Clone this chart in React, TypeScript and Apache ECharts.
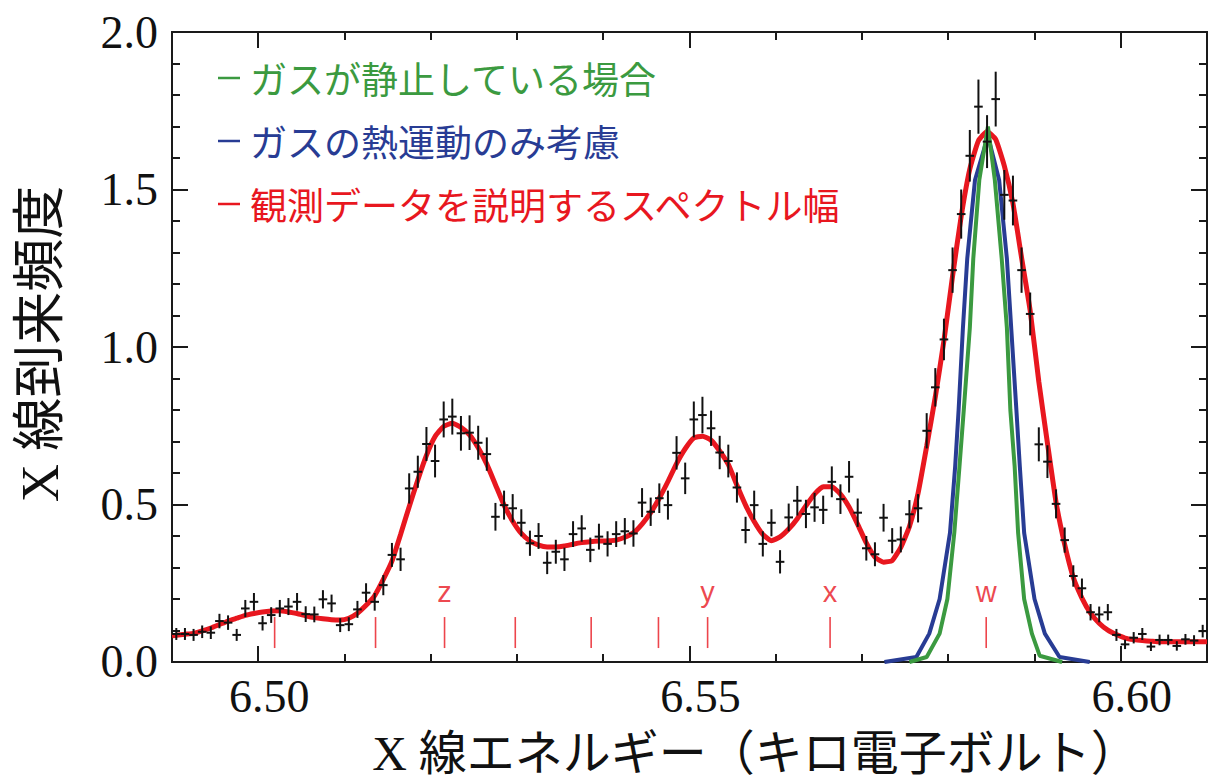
import React, { useEffect, useRef } from "react";
import * as echarts from "echarts";

// ---- data ----
const BIN_START = 6.4905; // keV, centre of the first bin
const BIN_WIDTH = 0.001; // keV

const observed = [
  0.089, 0.089, 0.086, 0.096, 0.093, 0.13, 0.125, 0.086, 0.17, 0.191,
  0.123, 0.149, 0.17, 0.176, 0.191, 0.152, 0.151, 0.199, 0.186, 0.117,
  0.12, 0.167, 0.22, 0.191, 0.244, 0.34, 0.326, 0.551, 0.604, 0.692,
  0.638, 0.77, 0.779, 0.726, 0.728, 0.696, 0.66, 0.461, 0.498, 0.488,
  0.442, 0.377, 0.4, 0.315, 0.35, 0.326, 0.406, 0.424, 0.356, 0.398,
  0.375, 0.406, 0.415, 0.408, 0.506, 0.477, 0.52, 0.498, 0.664, 0.583,
  0.77, 0.784, 0.742, 0.665, 0.638, 0.554, 0.419, 0.498, 0.375, 0.442,
  0.318, 0.459, 0.512, 0.47, 0.491, 0.483, 0.572, 0.517, 0.588, 0.474,
  0.361, 0.342, 0.458, 0.385, 0.389, 0.469, 0.488, 0.734, 0.872, 1.024,
  1.244, 1.422, 1.607, 1.763, 1.652, 1.787, 1.483, 1.465, 1.244, 1.105,
  0.691, 0.636, 0.502, 0.387, 0.273, 0.234, 0.158, 0.151, 0.158, 0.086,
  0.056, 0.077, 0.089, 0.049, 0.07, 0.07, 0.051, 0.072, 0.068, 0.098,
];

const observedErr = [
  0.019, 0.019, 0.019, 0.02, 0.02, 0.023, 0.023, 0.019, 0.027, 0.028,
  0.023, 0.025, 0.027, 0.027, 0.028, 0.025, 0.025, 0.029, 0.028, 0.022,
  0.022, 0.027, 0.03, 0.028, 0.032, 0.038, 0.037, 0.048, 0.051, 0.054,
  0.052, 0.057, 0.057, 0.055, 0.055, 0.054, 0.053, 0.044, 0.046, 0.045,
  0.043, 0.04, 0.041, 0.036, 0.038, 0.037, 0.041, 0.042, 0.039, 0.041,
  0.04, 0.041, 0.042, 0.042, 0.046, 0.045, 0.047, 0.046, 0.053, 0.05,
  0.057, 0.058, 0.056, 0.053, 0.052, 0.048, 0.042, 0.046, 0.04, 0.043,
  0.037, 0.044, 0.047, 0.045, 0.046, 0.045, 0.049, 0.047, 0.05, 0.045,
  0.039, 0.038, 0.044, 0.04, 0.041, 0.045, 0.045, 0.056, 0.061, 0.066,
  0.072, 0.078, 0.082, 0.086, 0.084, 0.087, 0.079, 0.079, 0.072, 0.068,
  0.054, 0.052, 0.046, 0.04, 0.034, 0.031, 0.026, 0.025, 0.026, 0.019,
  0.015, 0.018, 0.019, 0.014, 0.017, 0.017, 0.015, 0.017, 0.017, 0.02,
];

const modelFit = [
  0.085, 0.088, 0.091, 0.099, 0.108, 0.119, 0.13, 0.139, 0.148, 0.154,
  0.159, 0.162, 0.163, 0.159, 0.154, 0.147, 0.141, 0.137, 0.134, 0.133,
  0.139, 0.155, 0.18, 0.211, 0.262, 0.32, 0.405, 0.493, 0.578, 0.656,
  0.716, 0.748, 0.758, 0.745, 0.721, 0.68, 0.628, 0.563, 0.498, 0.447,
  0.408, 0.384, 0.371, 0.365, 0.365, 0.368, 0.374, 0.379, 0.382, 0.384,
  0.385, 0.387, 0.396, 0.41, 0.438, 0.474, 0.52, 0.573, 0.63, 0.677,
  0.711, 0.717, 0.704, 0.67, 0.627, 0.561, 0.498, 0.446, 0.405, 0.385,
  0.397, 0.422, 0.455, 0.496, 0.533, 0.556, 0.556, 0.533, 0.492, 0.437,
  0.378, 0.333, 0.317, 0.322, 0.364, 0.43, 0.536, 0.685, 0.842, 1.02,
  1.225, 1.415, 1.565, 1.655, 1.684, 1.659, 1.575, 1.456, 1.284, 1.115,
  0.89, 0.695, 0.507, 0.373, 0.268, 0.203, 0.155, 0.123, 0.101, 0.087,
  0.076, 0.071, 0.068, 0.066, 0.064, 0.064, 0.064, 0.064, 0.064, 0.064,
];
const modelEdgeEnergy = [6.49, 6.61];
const modelEdgeValue = [0.083, 0.064];

// gas at rest (green)
const staticEnergy = [
  6.5755, 6.5775, 6.579, 6.5799, 6.5807, 6.5813, 6.5818, 6.5825, 6.5829, 6.5836,
  6.5846, 6.5854, 6.5862, 6.5868, 6.5872, 6.5877, 6.5881, 6.5888, 6.5897, 6.5906, 6.5932,
];
const staticValue = [
  0.0, 0.016, 0.09, 0.2, 0.41, 0.62, 0.8, 1.06, 1.28, 1.53,
  1.7, 1.53, 1.28, 1.06, 0.8, 0.62, 0.41, 0.2, 0.09, 0.02, 0.0,
];

// thermal motion only (blue)
const thermalEnergy = [
  6.5726, 6.5763, 6.5778, 6.579, 6.5802, 6.5808, 6.5812, 6.5817, 6.5822, 6.5831,
  6.5846, 6.5859, 6.5868, 6.5873, 6.5879, 6.5883, 6.5888, 6.59, 6.5912, 6.5929, 6.5964,
];
const thermalValue = [
  0.0, 0.016, 0.09, 0.2, 0.41, 0.62, 0.8, 1.06, 1.28, 1.53,
  1.67, 1.53, 1.28, 1.06, 0.8, 0.62, 0.41, 0.2, 0.09, 0.016, 0.0,
];

const lineEnergy = [6.5019, 6.5136, 6.5216, 6.5298, 6.5386, 6.5464, 6.5521, 6.5663, 6.5844];
const lineLabel = ["", "", "z", "", "", "", "y", "x", "w"];

const xMajorTicks = [6.5, 6.55, 6.6];
const xMinorTicks = [6.51, 6.52, 6.53, 6.54, 6.56, 6.57, 6.58, 6.59];

const seriesNames = [
  "ガスが静止している場合",
  "ガスの熱運動のみ考慮",
  "観測データを説明するスペクトル幅",
];
const seriesColors = ["#3b9a40", "#283c94", "#e8171f"];

const xTitle = "X 線エネルギー（キロ電子ボルト）";
const yTitle = "X 線到来頻度";

// ---- styling ----
const SERIF = "'Liberation Serif', 'Noto Sans CJK JP', serif";
const AXIS_COLOR = "#1a1a1a";

function buildOption() {
  const bins = observed.map((_, i) => +(BIN_START + BIN_WIDTH * i).toFixed(4));

  const baseX = {
    type: "value",
    min: 6.49,
    max: 6.61,
    splitLine: { show: false },
    axisLine: { show: true, onZero: false, lineStyle: { color: AXIS_COLOR, width: 2 } },
  };

  const xAxes = [
    {
      ...baseX,
      position: "bottom",
      axisTick: { show: true, inside: true, length: 16, customValues: xMajorTicks, lineStyle: { color: AXIS_COLOR, width: 2 } },
      axisLabel: {
        show: true,
        customValues: xMajorTicks,
        formatter: (v: number) => v.toFixed(2),
        fontFamily: SERIF,
        fontSize: 46,
        color: "#111",
        margin: 12,
        padding: [0, 0, 0, 22],
      },
      name: xTitle,
      nameLocation: "middle",
      nameGap: 67,
      nameTextStyle: { fontFamily: SERIF, fontSize: 48, color: "#111", padding: [0, 0, 0, 132] },
    },
    {
      ...baseX,
      position: "bottom",
      axisTick: { show: true, inside: true, length: 8, customValues: xMinorTicks, lineStyle: { color: AXIS_COLOR, width: 2 } },
      axisLabel: { show: false },
    },
    {
      ...baseX,
      position: "top",
      axisTick: { show: true, inside: true, length: 16, customValues: xMajorTicks, lineStyle: { color: AXIS_COLOR, width: 2 } },
      axisLabel: { show: false },
    },
    {
      ...baseX,
      position: "top",
      axisTick: { show: true, inside: true, length: 8, customValues: xMinorTicks, lineStyle: { color: AXIS_COLOR, width: 2 } },
      axisLabel: { show: false },
    },
  ];

  const baseY = {
    type: "value",
    min: 0,
    max: 2,
    interval: 0.5,
    splitLine: { show: false },
    axisLine: { show: true, onZero: false, lineStyle: { color: AXIS_COLOR, width: 2 } },
    axisTick: { show: true, inside: true, length: 16, lineStyle: { color: AXIS_COLOR, width: 2 } },
    minorTick: { show: true, splitNumber: 5, length: 8, lineStyle: { color: AXIS_COLOR, width: 2 } },
  };

  const yAxes = [
    {
      ...baseY,
      position: "left",
      axisLabel: {
        formatter: (v: number) => v.toFixed(1),
        fontFamily: SERIF,
        fontSize: 46,
        color: "#111",
        margin: 14,
      },
      name: yTitle,
      nameLocation: "middle",
      nameGap: 106,
      nameTextStyle: { fontFamily: SERIF, fontSize: 53, color: "#111", padding: [0, 0, 0, 6] },
    },
    { ...baseY, position: "right", axisLabel: { show: false } },
  ];

  const modelData = [
    [modelEdgeEnergy[0], modelEdgeValue[0]],
    ...bins.map((x, i) => [x, modelFit[i]]),
    [modelEdgeEnergy[1], modelEdgeValue[1]],
  ];

  const legendData = seriesNames.map((name, i) => ({
    name,
    textStyle: { color: seriesColors[i] },
  }));

  return {
    animation: false,
    backgroundColor: "#ffffff",
    grid: { left: 172, right: 3, top: 32, bottom: 120, containLabel: false },
    legend: {
      orient: "vertical",
      left: 213,
      top: 53,
      icon: "rect",
      itemWidth: 22,
      itemHeight: 2.5,
      itemGap: 23,
      selectedMode: false,
      data: legendData,
      textStyle: {
        fontFamily: "'Noto Sans CJK JP', sans-serif",
        fontSize: 37,
        lineHeight: 40,
        padding: [0, 0, 0, 5],
      },
    },
    xAxis: xAxes,
    yAxis: yAxes,
    series: [
      {
        name: seriesNames[2],
        type: "line",
        data: modelData,
        showSymbol: false,
        symbol: "none",
        smooth: 0.15,
        z: 2,
        color: seriesColors[2],
        lineStyle: { color: seriesColors[2], width: 5 },
        silent: true,
      },
      {
        name: seriesNames[1],
        type: "line",
        data: thermalEnergy.map((x, i) => [x, thermalValue[i]]),
        showSymbol: false,
        symbol: "none",
        z: 3,
        color: seriesColors[1],
        lineStyle: { color: seriesColors[1], width: 4 },
        silent: true,
      },
      {
        name: seriesNames[0],
        type: "line",
        data: staticEnergy.map((x, i) => [x, staticValue[i]]),
        showSymbol: false,
        symbol: "none",
        z: 4,
        color: seriesColors[0],
        lineStyle: { color: seriesColors[0], width: 4 },
        silent: true,
      },
      {
        type: "custom",
        z: 5,
        silent: true,
        encode: { x: 0, y: 1 },
        data: bins.map((x, i) => [x, observed[i], observedErr[i]]),
        renderItem: (_params: any, api: any) => {
          const x = api.value(0);
          const y = api.value(1);
          const e = api.value(2);
          const half = BIN_WIDTH / 2;
          const l = api.coord([x - half, y]);
          const r = api.coord([x + half, y]);
          const t = api.coord([x, y + e]);
          const b = api.coord([x, y - e]);
          const style = { stroke: "#111", lineWidth: 2, fill: "none" };
          return {
            type: "group",
            children: [
              { type: "line", shape: { x1: l[0], y1: l[1], x2: r[0], y2: r[1] }, style },
              { type: "line", shape: { x1: t[0], y1: t[1], x2: b[0], y2: b[1] }, style },
            ],
          };
        },
      },
      {
        type: "scatter",
        z: 6,
        silent: true,
        symbol: "rect",
        symbolSize: [1.6, 31],
        itemStyle: { color: seriesColors[2] },
        data: lineEnergy.map((x) => [x, 0.0935]),
      },
      {
        type: "scatter",
        z: 6,
        silent: true,
        symbolSize: 0,
        itemStyle: { color: "transparent" },
        label: {
          show: true,
          position: "inside",
          formatter: "{b}",
          color: seriesColors[2],
          fontFamily: "'Liberation Sans', 'DejaVu Sans', sans-serif",
          fontSize: 29,
        },
        data: lineEnergy
          .map((x, i) => ({ name: lineLabel[i], value: [x, 0.222] }))
          .filter((d) => d.name !== ""),
      },
    ],
  };
}

export default function App() {
  const ref = useRef<HTMLDivElement | null>(null);
  useEffect(() => {
    if (!ref.current) return;
    const chart = echarts.init(ref.current, null, { renderer: "svg" });
    chart.setOption(buildOption() as any);
    return () => chart.dispose();
  }, []);
  return (
    <div
      ref={ref}
      style={{ position: "absolute", left: 0, top: 0, width: 1210, height: 782, background: "#fff" }}
    />
  );
}
